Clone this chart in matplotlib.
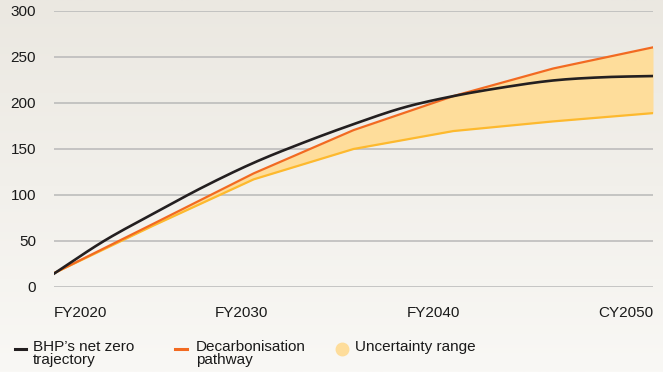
import numpy as np
import matplotlib.pyplot as plt
from matplotlib.lines import Line2D

plt.rcParams['font.family'] = ['Liberation Sans', 'DejaVu Sans']

# data
years_net_zero = [2020, 2022.5, 2025, 2027.5, 2030, 2032.5, 2035, 2037.5, 2040, 2042.5, 2045, 2047.5, 2050]
net_zero = [14.5, 50, 80, 109, 135, 157, 177, 195, 207.5, 217, 224.5, 228, 229.3]

years = [2020, 2025, 2030, 2035, 2040, 2045, 2050]
decarb = [15, 69, 123.5, 170.5, 207.5, 237.5, 260.5]
lower = [15, 67, 117, 150, 169.5, 180, 189]

tick_pos = [2020, 2029.4, 2039, 2050]
tick_labels = ['FY2020', 'FY2030', 'FY2040', 'CY2050']
y_ticks = [0, 50, 100, 150, 200, 250, 300]

black = '#231f20'
orange = '#f26a21'
yellow = '#fdb92e'
fill = '#fedd9b'


def smooth(x, y, n=12):
    # catmull-rom through the given points, only for drawing
    x = np.asarray(x, float)
    y = np.asarray(y, float)
    px = np.concatenate([[2 * x[0] - x[1]], x, [2 * x[-1] - x[-2]]])
    py = np.concatenate([[2 * y[0] - y[1]], y, [2 * y[-1] - y[-2]]])
    xs, ys = [], []
    t = np.linspace(0, 1, n, endpoint=False)
    for i in range(1, len(px) - 2):
        for p, out in ((px, xs), (py, ys)):
            p0, p1, p2, p3 = p[i - 1], p[i], p[i + 1], p[i + 2]
            out.extend(0.5 * (2 * p1 + (-p0 + p2) * t + (2 * p0 - 5 * p1 + 4 * p2 - p3) * t ** 2
                              + (-p0 + 3 * p1 - 3 * p2 + p3) * t ** 3))
    xs.append(x[-1])
    ys.append(y[-1])
    return xs, ys


fig = plt.figure(figsize=(6.63, 3.72), dpi=100)

# background gradient
bg = fig.add_axes([0, 0, 1, 1], zorder=-10)
grad = np.linspace(0, 1, 256).reshape(-1, 1)
top = np.array([0xeb, 0xe8, 0xe1]) / 255
bot = np.array([0xf9, 0xf8, 0xf5]) / 255
img = top[None, None, :] * (1 - grad[:, :, None]) + bot[None, None, :] * grad[:, :, None]
bg.imshow(img, aspect='auto', extent=[0, 1, 0, 1])
bg.axis('off')

ax = fig.add_axes([54 / 663, 1 - 287 / 372, 599 / 663, 276 / 372])
ax.patch.set_alpha(0)
ax.set_xlim(2020, 2050)
ax.set_ylim(0, 300)
for s in ax.spines.values():
    s.set_visible(False)

ax.set_yticks(y_ticks)
ax.yaxis.grid(True, color='#b8b8b8', lw=1.1)
ax.set_axisbelow(True)
ax.tick_params(axis='both', length=0, labelsize=11, labelcolor='#1a1a1a')
ax.tick_params(axis='y', pad=13)
ax.tick_params(axis='x', pad=14)
ax.set_xticks(tick_pos)
ax.set_xticklabels(tick_labels)
labels = ax.get_xticklabels()
labels[0].set_ha('left')
labels[-1].set_ha('right')

ax.fill_between(years, lower, decarb, color=fill, lw=0, zorder=1)
ax.plot(years, lower, color=yellow, lw=1.6, zorder=2)
ax.plot(years, decarb, color=orange, lw=1.6, zorder=3)
sx, sy = smooth(years_net_zero, net_zero)
ax.plot(sx, sy, color=black, lw=1.9, zorder=4)

# legend drawn by hand
ly = 1 - 349 / 372
ty = ly + 9 / 372
fig.add_artist(Line2D([15 / 663, 26 / 663], [ly, ly], color=black, lw=2.2))
fig.text(33 / 663, ty, "BHP’s net zero\ntrajectory", fontsize=11, va='top',
         color='#1a1a1a', linespacing=0.95)
fig.add_artist(Line2D([175 / 663, 187 / 663], [ly, ly], color=orange, lw=2.2))
fig.text(196 / 663, ty, "Decarbonisation\npathway", fontsize=11, va='top',
         color='#1a1a1a', linespacing=0.95)
fig.add_artist(Line2D([342 / 663], [ly], marker='o', ms=9, color=fill, lw=0))
fig.text(355 / 663, ty, "Uncertainty range", fontsize=11, va='top', color='#1a1a1a')

fig.savefig('out.png', dpi=100)
